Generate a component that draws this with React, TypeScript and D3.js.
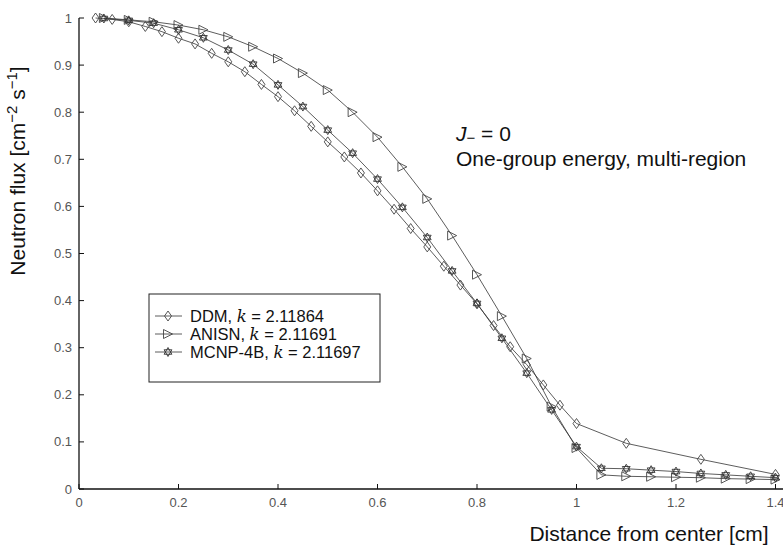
import React from "react";
import * as d3 from "d3";

const ddmX = [0.0333, 0.0667, 0.1, 0.1333, 0.1667, 0.2, 0.2333, 0.2667, 0.3, 0.3333, 0.3667, 0.4, 0.4333, 0.4667, 0.5, 0.5333, 0.5667, 0.6, 0.6333, 0.6667, 0.7, 0.7333, 0.7667, 0.8, 0.8333, 0.8667, 0.9, 0.9333, 0.9667, 1.0, 1.1, 1.25, 1.4];
const ddmY = [1.0, 0.997, 0.992, 0.982, 0.971, 0.957, 0.945, 0.925, 0.907, 0.886, 0.859, 0.833, 0.803, 0.770, 0.737, 0.705, 0.671, 0.633, 0.594, 0.553, 0.514, 0.473, 0.433, 0.393, 0.347, 0.302, 0.264, 0.221, 0.178, 0.139, 0.097, 0.063, 0.031];

const mcX = [0.05, 0.1, 0.15, 0.2, 0.25, 0.3, 0.35, 0.4, 0.45, 0.5, 0.55, 0.6, 0.65, 0.7, 0.75, 0.8, 0.85, 0.9, 0.95, 1.0, 1.05, 1.1, 1.15, 1.2, 1.25, 1.3, 1.35, 1.4];
const anisnY = [1.0, 0.996, 0.992, 0.985, 0.975, 0.960, 0.939, 0.914, 0.883, 0.847, 0.800, 0.747, 0.684, 0.616, 0.538, 0.455, 0.367, 0.277, 0.175, 0.087, 0.030, 0.027, 0.026, 0.025, 0.024, 0.022, 0.021, 0.020];
const mcnpY = [0.999, 0.995, 0.989, 0.975, 0.958, 0.932, 0.902, 0.858, 0.812, 0.762, 0.713, 0.658, 0.598, 0.534, 0.463, 0.394, 0.320, 0.246, 0.168, 0.090, 0.044, 0.043, 0.040, 0.037, 0.033, 0.030, 0.027, 0.024];

const xTicks = [0, 0.2, 0.4, 0.6, 0.8, 1, 1.2, 1.4];
const yTicks = [0, 0.1, 0.2, 0.3, 0.4, 0.5, 0.6, 0.7, 0.8, 0.9, 1];

const legendNames = ["DDM", "ANISN", "MCNP-4B"];
const legendK = ["2.11864", "2.11691", "2.11697"];

const W = 783, H = 550;
const x = d3.scaleLinear().domain([0, 1.4]).range([79, 775.5]);
const y = d3.scaleLinear().domain([0, 1]).range([489, 18]);

const FONT = "'Liberation Sans', Arial, Helvetica, sans-serif";
const LINE = "#333";

function Diamond({ cx, cy }: { cx: number; cy: number }) {
  const w = 3.5, h = 5;
  return <path d={`M${cx},${cy - h}L${cx + w},${cy}L${cx},${cy + h}L${cx - w},${cy}Z`} fill="none" stroke="#444" strokeWidth={0.9} />;
}
function Tri({ cx, cy }: { cx: number; cy: number }) {
  const s = 4.5;
  return <path d={`M${cx - s},${cy - s}L${cx + s},${cy}L${cx - s},${cy + s}Z`} fill="none" stroke="#444" strokeWidth={0.9} />;
}
function hexPath(r: number) {
  const a = (k: number) => (Math.PI / 2) + (k * 2 * Math.PI) / 3;
  const t1 = [0, 1, 2].map(k => [r * Math.cos(a(k)), -r * Math.sin(a(k))]);
  const t2 = [0, 1, 2].map(k => [-r * Math.cos(a(k)), r * Math.sin(a(k))]);
  const p = (t: number[][]) => `M${t[0][0]},${t[0][1]}L${t[1][0]},${t[1][1]}L${t[2][0]},${t[2][1]}Z`;
  return p(t1) + p(t2);
}
const starPath = hexPath(4.5);
function Star({ cx, cy }: { cx: number; cy: number }) {
  return <path d={starPath} transform={`translate(${cx},${cy})`} fill="none" stroke="#333" strokeWidth={0.9} />;
}

export default function App() {
  const line = d3.line<[number, number]>().x(d => x(d[0])).y(d => y(d[1]));
  const ddm: [number, number][] = ddmX.map((v, i) => [v, ddmY[i]]);
  const an: [number, number][] = mcX.map((v, i) => [v, anisnY[i]]);
  const mc: [number, number][] = mcX.map((v, i) => [v, mcnpY[i]]);
  const legendRows = [316, 334, 352];
  return (
    <svg width={W} height={H} style={{ position: "absolute", left: 0, top: 0, background: "#fff" }} fontFamily={FONT}>
      <rect width={W} height={H} fill="#fff" />
      <path d={line(ddm) || ""} fill="none" stroke={LINE} strokeWidth={0.8} />
      <path d={line(an) || ""} fill="none" stroke={LINE} strokeWidth={0.8} />
      <path d={line(mc) || ""} fill="none" stroke={LINE} strokeWidth={0.8} />
      {ddm.map((d, i) => <Diamond key={"d" + i} cx={x(d[0])} cy={y(d[1])} />)}
      {an.map((d, i) => <Tri key={"a" + i} cx={x(d[0])} cy={y(d[1])} />)}
      {mc.map((d, i) => <Star key={"m" + i} cx={x(d[0])} cy={y(d[1])} />)}
      <line x1={x(0)} x2={x(0)} y1={y(1)} y2={y(0)} stroke="#111" strokeWidth={1.3} />
      <line x1={x(0)} x2={W} y1={y(0)} y2={y(0)} stroke="#111" strokeWidth={1.3} />
      {yTicks.map(t => (
        <g key={"y" + t}>
          <line x1={x(0)} x2={x(0) + 5} y1={y(t)} y2={y(t)} stroke="#111" strokeWidth={1} />
          <text x={x(0) - 7} y={y(t) + 4.5} textAnchor="end" fontSize={13} fill="#555">{t}</text>
        </g>
      ))}
      {xTicks.map(t => (
        <g key={"x" + t}>
          <line x1={x(t)} x2={x(t)} y1={y(0)} y2={y(0) - 5} stroke="#111" strokeWidth={1} />
          <text x={x(t)} y={y(0) + 18} textAnchor="middle" fontSize={13} fill="#555">{t}</text>
        </g>
      ))}
      <text x={649} y={541} textAnchor="middle" fontSize={21} fill="#111">Distance from center [cm]</text>
      <text transform="translate(25,171) rotate(-90)" textAnchor="middle" fontSize={21} fill="#111">
        Neutron flux [cm<tspan dy={-8} fontSize={15}>−2</tspan><tspan dy={8}> s</tspan><tspan dy={-8} fontSize={15}>−1</tspan><tspan dy={8}>]</tspan>
      </text>
      <text x={456} y={141} fontSize={21} fill="#111">
        <tspan fontStyle="italic">J</tspan><tspan dy={2} fontSize={15}>−</tspan><tspan dy={-2}> = 0</tspan>
      </text>
      <text x={456} y={166} fontSize={21} fill="#111">One-group energy, multi-region</text>
      <rect x={149} y={294} width={231} height={88} fill="#fff" stroke="#222" strokeWidth={1} />
      {legendNames.map((n, i) => {
        const ly = legendRows[i];
        return (
          <g key={n}>
            <line x1={155} x2={182} y1={ly} y2={ly} stroke={LINE} strokeWidth={0.8} />
            {i === 0 && <Diamond cx={168} cy={ly} />}
            {i === 1 && <Tri cx={168} cy={ly} />}
            {i === 2 && <Star cx={168} cy={ly} />}
            <text x={190} y={ly + 5.5} fontSize={16.5} fill="#111">
              {n}, <tspan fontStyle="italic" fontFamily="'DejaVu Serif', serif">k</tspan> = {legendK[i]}
            </text>
          </g>
        );
      })}
    </svg>
  );
}
